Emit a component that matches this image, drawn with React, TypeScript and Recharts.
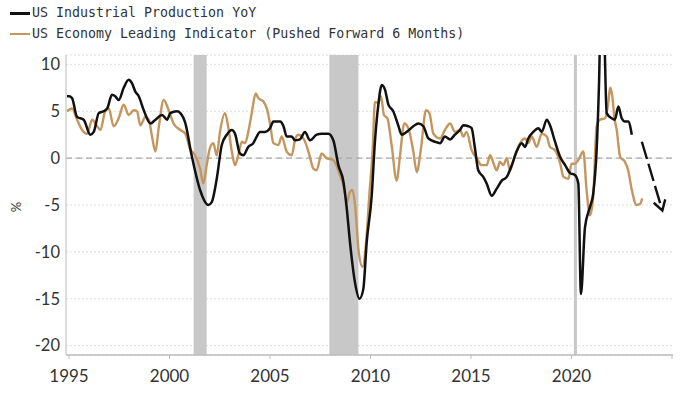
import { LineChart, Line, XAxis, YAxis, CartesianGrid, ReferenceLine, ReferenceArea } from "recharts";

// US industrial production YoY (%)
const ipDates = [
  1994.9, 1995.0, 1995.15, 1995.4, 1995.73, 1996.06, 1996.23, 1996.48, 1996.72, 1996.9,
  1997.14, 1997.3, 1997.47, 1997.72, 1997.97, 1998.13, 1998.3, 1998.47, 1998.72, 1999.05,
  1999.3, 1999.63, 1999.88, 2000.04, 2000.37, 2000.54, 2000.79, 2001.1, 2001.52, 2001.93,
  2002.1, 2002.35, 2002.6, 2002.85, 2003.1, 2003.26, 2003.5, 2003.67, 2003.92, 2004.17,
  2004.34, 2004.5, 2004.75, 2005.0, 2005.17, 2005.5, 2005.67, 2005.83, 2006.08, 2006.24,
  2006.49, 2006.74, 2006.99, 2007.32, 2007.57, 2007.9, 2008.15, 2008.4, 2008.65, 2008.82,
  2008.98, 2009.23, 2009.45, 2009.64, 2009.81, 2010.06, 2010.22, 2010.39, 2010.56, 2010.72,
  2010.89, 2011.13, 2011.38, 2011.55, 2011.8, 2012.13, 2012.38, 2012.63, 2012.88, 2013.2,
  2013.46, 2013.7, 2013.96, 2014.2, 2014.45, 2014.62, 2014.87, 2015.03, 2015.2, 2015.36,
  2015.61, 2015.78, 2016.03, 2016.28, 2016.53, 2016.78, 2017.03, 2017.27, 2017.52, 2017.69,
  2017.85, 2018.1, 2018.35, 2018.52, 2018.77, 2018.93, 2019.18, 2019.43, 2019.68, 2019.93,
  2020.17, 2020.34, 2020.47, 2020.67, 2020.92, 2021.08, 2021.25, 2021.37, 2021.47, 2021.62,
  2021.75, 2022.0, 2022.16, 2022.33, 2022.5, 2022.66, 2022.82, 2023.0,
];
const ipValues = [
  6.6, 6.6, 6.4, 4.4, 4.1, 2.5, 2.8, 4.8, 5.0, 5.3,
  6.75, 6.6, 6.2, 7.5, 8.36, 8.0, 7.1, 6.6, 5.1, 3.7,
  4.1, 4.6, 4.1, 4.8, 5.0, 4.8, 3.7, 0.3, -3.4, -5.0,
  -4.7, -2.2, 1.4, 2.5, 3.0, 2.6, 0.5, 0.3, 1.2, 1.6,
  2.3, 2.8, 2.8, 3.2, 3.9, 3.9, 3.4, 2.3, 2.3, 1.9,
  2.0, 2.8, 1.9, 2.5, 2.6, 2.6, 1.9, -0.75, -2.5, -5.4,
  -9.0, -13.3, -15.0, -14.0, -9.0, -4.0, 1.75, 5.7, 7.8, 7.3,
  5.7, 5.0, 3.5, 2.5, 2.8, 3.4, 3.7, 3.4, 2.1, 1.75,
  1.6, 2.3, 2.0, 2.5, 3.0, 3.5, 3.4, 3.2, 1.0, -1.3,
  -2.0, -2.7, -4.0, -3.25, -2.4, -2.0, -0.75, 0.7, 1.6, 1.2,
  2.1, 2.8, 3.2, 2.8, 4.1, 3.5, 1.75, 0.15, -0.75, -1.6,
  -1.8, -2.7, -14.5, -7.4, -5.2, -3.8, 0.85, 8.0, 17.0, 14.0,
  4.8, 4.25, 4.1, 5.5, 4.25, 3.9, 3.9, 2.5,
];

// US economy leading indicator, pushed forward 6 months (%)
const leiDates = [
  1994.9, 1995.15, 1995.4, 1995.65, 1995.9, 1996.15, 1996.4, 1996.56, 1996.8, 1996.98,
  1997.22, 1997.47, 1997.72, 1997.97, 1998.22, 1998.38, 1998.55, 1998.8, 1998.97, 1999.13,
  1999.3, 1999.46, 1999.71, 1999.96, 2000.2, 2000.54, 2000.79, 2001.02, 2001.27, 2001.52,
  2001.68, 2001.85, 2002.0, 2002.18, 2002.35, 2002.51, 2002.76, 2002.93, 2003.1, 2003.26,
  2003.42, 2003.6, 2003.76, 2003.92, 2004.09, 2004.29, 2004.42, 2004.67, 2004.84, 2005.0,
  2005.17, 2005.42, 2005.58, 2005.83, 2006.08, 2006.24, 2006.4, 2006.66, 2006.91, 2007.0,
  2007.15, 2007.32, 2007.57, 2007.82, 2008.15, 2008.48, 2008.65, 2008.82, 2008.98, 2009.1,
  2009.23, 2009.4, 2009.6, 2009.78, 2009.94, 2010.11, 2010.22, 2010.39, 2010.52, 2010.67,
  2010.84, 2011.05, 2011.3, 2011.47, 2011.68, 2011.88, 2012.13, 2012.3, 2012.51, 2012.76,
  2012.93, 2013.13, 2013.46, 2013.7, 2013.96, 2014.2, 2014.45, 2014.62, 2014.78, 2015.03,
  2015.28, 2015.53, 2015.78, 2015.95, 2016.11, 2016.28, 2016.44, 2016.61, 2016.78, 2016.94,
  2017.19, 2017.44, 2017.69, 2017.85, 2018.02, 2018.27, 2018.52, 2018.77, 2018.93, 2019.18,
  2019.43, 2019.6, 2019.85, 2020.0, 2020.17, 2020.34, 2020.59, 2020.75, 2020.92, 2021.08,
  2021.25, 2021.42, 2021.67, 2021.83, 2021.92, 2022.03, 2022.13, 2022.25, 2022.42, 2022.66,
  2022.82, 2023.0, 2023.24, 2023.41, 2023.52,
];
const leiValues = [
  5.0, 5.3, 4.1, 3.0, 2.6, 4.1, 3.4, 3.0, 5.0, 5.3,
  3.4, 4.25, 5.7, 4.6, 5.1, 5.0, 3.5, 4.4, 4.1, 2.3,
  0.7, 3.2, 6.2, 5.1, 3.7, 3.0, 2.6, 1.0, 0.3, -1.1,
  -2.7, -0.75, 1.0, 1.6, 0.3, 2.8, 4.8, 3.2, 0.7, -0.75,
  0.3, 1.75, 1.6, 2.8, 4.8, 6.9, 6.4, 6.05, 5.3, 3.7,
  1.6, 1.4, 2.3, 0.7, 0.3, 1.9, 2.5, 2.1, 0.7, 0.0,
  -1.1, -1.3, 0.5, 0.0, -0.2, -1.8, -2.9, -4.7, -3.6, -3.4,
  -5.0, -9.7, -11.6, -9.0, -4.0, 1.0, 6.0, 5.9, 6.6, 4.6,
  4.25, 1.4, -2.4, 0.3, 3.7, 3.2, 0.7, -1.5, 1.0, 5.1,
  4.8, 2.6, 2.1, 3.0, 3.7, 2.8, 3.0, 2.3, 2.8, 0.85,
  0.0, -0.75, -0.75, 0.3, -0.5, -1.3, -0.4, -0.75, 0.0, -1.3,
  0.3, 1.6, 2.1, 1.6, 2.3, 1.2, 2.6, 2.3, 1.2, 0.85,
  -0.5, -2.0, -2.2, -0.6, -0.6, -0.2, 0.7, -3.4, -6.1, -4.1,
  3.4, 4.1, 4.25, 5.9, 7.5, 6.6, 4.4, 3.0, 0.15, -0.4,
  -1.3, -3.4, -5.0, -4.9, -4.3,
];

// projected path of industrial production (dashed arrow)
const forecastDates = [2023.5, 2024.52];
const forecastValues = [1.75, -5.6];

// recessions
const recessions = [
  [2001.2, 2001.85],
  [2007.95, 2009.4],
  [2020.12, 2020.27],
];

const xTicks = [1995, 2000, 2005, 2010, 2015, 2020, 2025];
const yTicks = [-20, -15, -10, -5, 0, 5, 10];

const ipData = ipDates.map((t, i) => ({ t, v: ipValues[i] }));
const leiData = leiDates.map((t, i) => ({ t, v: leiValues[i] }));
const forecastData = forecastDates.map((t, i) => ({ t, v: forecastValues[i] }));

const BLACK = "#111111";
const GOLD = "#c4965e";

export default function App() {
  return (
    <div style={{ position: "absolute", left: 0, top: 0, width: 700, height: 394, background: "#fff" }}>
      <LineChart width={700} height={394} margin={{ top: 55, right: 27, bottom: 0, left: 0 }}>
        <defs>
          <marker
            id="arrowHead"
            viewBox="0 0 14 14"
            refX="12"
            refY="7"
            markerWidth="14"
            markerHeight="14"
            markerUnits="userSpaceOnUse"
            orient="auto"
            overflow="visible"
          >
            <path
              d="M2,1 L12,7 L2,13"
              fill="none"
              stroke={BLACK}
              strokeWidth={2.4}
              strokeDasharray="none"
              strokeLinejoin="miter"
            />
          </marker>
        </defs>
        {recessions.map(([a, b]) => (
          <ReferenceArea key={a} x1={a} x2={b} y1={-21} y2={11} fill="#c8c8c8" fillOpacity={1} stroke="none" ifOverflow="hidden" />
        ))}
        <CartesianGrid vertical={false} stroke="#dcdcdc" strokeDasharray="2 2" />
        <ReferenceLine y={0} stroke="#a8a8a8" strokeDasharray="6 4" strokeWidth={1.3} />
        <XAxis
          type="number"
          dataKey="t"
          domain={[1994.85, 2025.05]}
          ticks={xTicks}
          interval={0}
          allowDataOverflow
          tickFormatter={(v) => (v === 2025 ? "" : String(v))}
          height={39}
          tickSize={4}
          tickMargin={11}
          axisLine={{ stroke: "#bdbdbd", strokeWidth: 1.5 }}
          tickLine={{ stroke: "#bdbdbd" }}
          tick={{ fill: "#333", fontSize: 17, fontFamily: "Lato" }}
        />
        <YAxis
          type="number"
          domain={[-21, 11]}
          ticks={yTicks}
          interval={0}
          allowDataOverflow
          width={66}
          tickSize={0}
          tickMargin={6}
          tickLine={false}
          axisLine={{ stroke: "#d0d0d0", strokeWidth: 1.5 }}
          tick={{ fill: "#333", fontSize: 16.5, fontFamily: "Lato" }}
          label={() => (
            <text x={18} y={207} transform="rotate(-90 18 207)" textAnchor="middle" dominantBaseline="middle" fontSize={13} fill="#333" fontFamily="Lato">
              %
            </text>
          )}
        />
        <Line data={leiData} dataKey="v" type="monotone" stroke={GOLD} strokeWidth={2.4} dot={false} isAnimationActive={false} />
        <Line data={ipData} dataKey="v" type="monotone" stroke={BLACK} strokeWidth={2.5} dot={false} isAnimationActive={false} />
        <Line
          data={forecastData}
          dataKey="v"
          type="linear"
          stroke={BLACK}
          strokeWidth={2.4}
          strokeDasharray="18 5"
          markerEnd="url(#arrowHead)"
          dot={false}
          isAnimationActive={false}
        />
      </LineChart>
      <div style={{ position: "absolute", left: 0, top: 0, fontFamily: "DejaVu Sans Mono", fontSize: 13.3, color: "#333" }}>
        <div style={{ position: "absolute", left: 10, top: 12, width: 20, height: 3, background: BLACK }} />
        <div style={{ position: "absolute", left: 32, top: 5, whiteSpace: "nowrap" }}>US Industrial Production YoY</div>
        <div style={{ position: "absolute", left: 10, top: 33, width: 20, height: 2, background: GOLD }} />
        <div style={{ position: "absolute", left: 32, top: 26, whiteSpace: "nowrap" }}>US Economy Leading Indicator (Pushed Forward 6 Months)</div>
      </div>
    </div>
  );
}
